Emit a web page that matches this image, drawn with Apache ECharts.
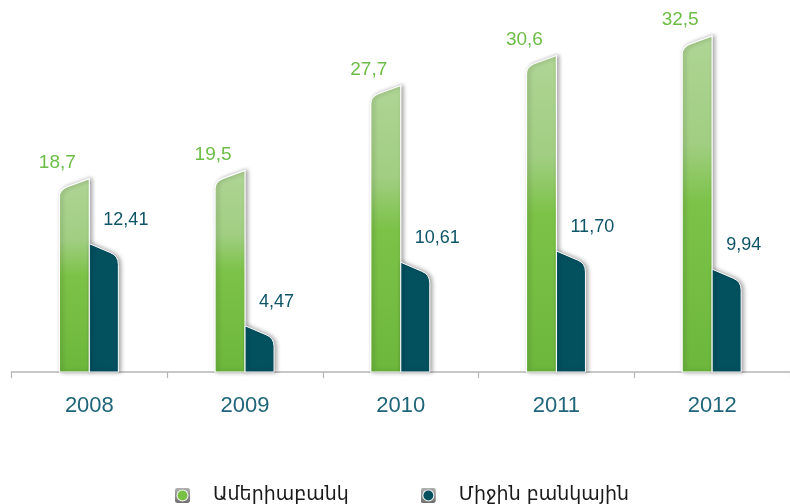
<!DOCTYPE html>
<html>
<head>
<meta charset="utf-8">
<script src="https://cdn.jsdelivr.net/npm/echarts@6/dist/echarts.min.js"></script>
<style>
html,body{margin:0;padding:0;background:#fff;}
#main{width:790px;height:504px;}
</style>
</head>
<body>
<div id="main"></div>
<script>
const categories = ['2008', '2009', '2010', '2011', '2012'];
const ameriaValues = [18.7, 19.5, 27.7, 30.6, 32.5];
const bankAvgValues = [12.41, 4.47, 10.61, 11.70, 9.94];
const seriesNames = ['Ամերիաբանկ', 'Միջին բանկային'];

const GREEN_LABEL = '#6cbd45';
const DARK = '#03505f';
const DARK_LABEL = '#0d5467';

function legendIcon(color) {
  const svg = '<svg xmlns="http://www.w3.org/2000/svg" width="14" height="14">' +
    '<defs><linearGradient id="g" x1="0" y1="0" x2="0" y2="1">' +
    '<stop offset="0" stop-color="#b0b0b0"/><stop offset="1" stop-color="#6f6f6f"/></linearGradient></defs>' +
    '<rect x="0" y="0" width="14" height="14" rx="2" fill="url(#g)"/>' +
    '<circle cx="7" cy="7" r="5.6" fill="#f2f2f2"/>' +
    '<circle cx="7" cy="7" r="4.6" fill="' + color + '"/></svg>';
  return 'image://data:image/svg+xml;charset=utf-8,' + encodeURIComponent(svg);
}

function fmt(v, d) { return v.toFixed(d).replace('.', ','); }

function renderGreen(params, api) {
  const top = api.coord([api.value(0), api.value(1)]);
  const base = api.coord([api.value(0), 0]);
  const x1 = top[0], x0 = top[0] - 30, yT = top[1], y0 = base[1];
  const path = 'M' + x0 + ',' + y0 +
    ' L' + x0 + ',' + (yT + 18) +
    ' Q' + x0 + ',' + (yT + 11) + ' ' + (x0 + 8) + ',' + (yT + 8) +
    ' L' + x1 + ',' + yT +
    ' L' + x1 + ',' + y0 + ' Z';
  return {
    type: 'group',
    children: [{
      type: 'path',
      shape: { pathData: path },
      style: {
        fill: new echarts.graphic.LinearGradient(0, 0, 0, 1, [
          { offset: 0, color: '#afd595' },
          { offset: 0.32, color: '#a1ce82' },
          { offset: 0.5, color: '#7cc248' },
          { offset: 1, color: '#6db73d' }
        ]),
        stroke: '#ffffff',
        lineWidth: 1.2,
        shadowColor: 'rgba(0,0,0,0.35)',
        shadowBlur: 4,
        shadowOffsetX: 2
      }
    }, {
      type: 'text',
      style: {
        text: fmt(api.value(1), 1),
        x: x1 - 32,
        y: yT - 16,
        align: 'center',
        verticalAlign: 'middle',
        textAlign: 'center',
        textVerticalAlign: 'middle',
        fill: GREEN_LABEL,
        font: '19px "Liberation Sans", Arial, sans-serif'
      }
    }]
  };
}

function renderDark(params, api) {
  const top = api.coord([api.value(0), api.value(1)]);
  const base = api.coord([api.value(0), 0]);
  const x0 = top[0], x1 = top[0] + 29, yT = top[1], y0 = base[1];
  const path = 'M' + x0 + ',' + y0 +
    ' L' + x0 + ',' + yT +
    ' L' + (x0 + 21) + ',' + (yT + 9) +
    ' Q' + x1 + ',' + (yT + 12) + ' ' + x1 + ',' + (yT + 21) +
    ' L' + x1 + ',' + y0 + ' Z';
  return {
    type: 'group',
    children: [{
      type: 'path',
      shape: { pathData: path },
      style: {
        fill: DARK,
        stroke: '#ffffff',
        lineWidth: 1,
        shadowColor: 'rgba(0,0,0,0.35)',
        shadowBlur: 4,
        shadowOffsetX: 2
      }
    }, {
      type: 'text',
      style: {
        text: fmt(api.value(1), 2),
        x: x0 + 14,
        y: yT - 24,
        align: 'left',
        verticalAlign: 'middle',
        textAlign: 'left',
        textVerticalAlign: 'middle',
        fill: DARK_LABEL,
        font: '18px "Liberation Sans", Arial, sans-serif'
      }
    }]
  };
}

const chart = echarts.init(document.getElementById('main'), null, { renderer: 'canvas' });
chart.setOption({
  backgroundColor: '#ffffff',
  animation: false,
  grid: { left: 11.5, width: 785, top: 10, bottom: 132, containLabel: false },
  xAxis: {
    type: 'category',
    data: categories,
    axisLine: { lineStyle: { color: '#b5b5b5', width: 1.5 } },
    axisTick: { show: true, length: 6, lineStyle: { color: '#b5b5b5', width: 1.2 } },
    axisLabel: {
      margin: 23,
      color: '#1f6579',
      fontSize: 22,
      fontFamily: '"Liberation Sans", Arial, sans-serif'
    }
  },
  yAxis: { type: 'value', min: 0, max: 35, show: false, splitLine: { show: false } },
  legend: {
    left: 170,
    top: 481,
    itemWidth: 15,
    itemHeight: 15,
    itemGap: 72,
    textStyle: {
      fontFamily: '"DejaVu Sans", sans-serif',
      fontSize: 19,
      color: '#1a1a1a',
      padding: [0, 0, 0, 18]
    },
    data: [
      { name: seriesNames[0], icon: legendIcon('#78c043') },
      { name: seriesNames[1], icon: legendIcon(DARK) }
    ]
  },
  series: [{
    name: seriesNames[0],
    type: 'custom',
    renderItem: renderGreen,
    itemStyle: { color: '#78c043' },
    encode: { x: 0, y: 1 },
    data: ameriaValues.map((v, i) => [i, v])
  }, {
    name: seriesNames[1],
    type: 'custom',
    renderItem: renderDark,
    itemStyle: { color: DARK },
    encode: { x: 0, y: 1 },
    data: bankAvgValues.map((v, i) => [i, v])
  }]
});
</script>
</body>
</html>
